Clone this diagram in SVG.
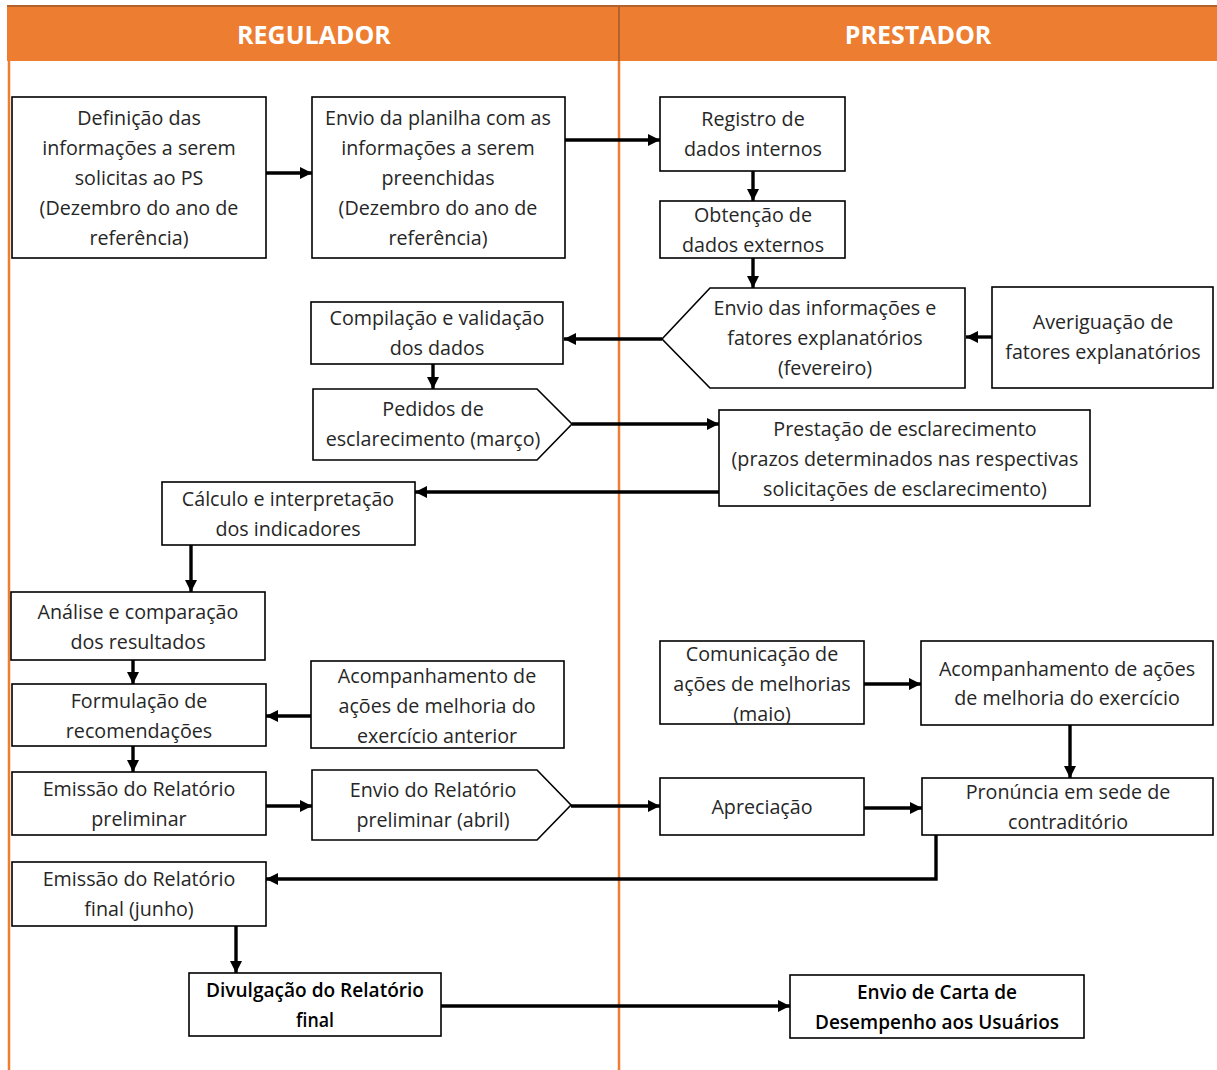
<svg xmlns="http://www.w3.org/2000/svg" width="1217" height="1070" viewBox="0 0 1217 1070">
<defs>
<marker id="ah" markerUnits="userSpaceOnUse" markerWidth="12" markerHeight="12" viewBox="0 0 12 12" refX="12" refY="6" orient="auto">
<path d="M0,0 L12,6 L0,12 Z" fill="#000"/>
</marker>
</defs>
<style>
.bx{fill:#fff;stroke:#000;stroke-width:1.6}
.t{font-family:"Open Sans","Liberation Sans",sans-serif;font-size:19.7px;fill:#262626;text-anchor:middle}
.b{font-family:"Open Sans","Liberation Sans",sans-serif;font-size:19.5px;font-weight:600;fill:#000;text-anchor:middle}
.h{font-family:"Open Sans","Liberation Sans",sans-serif;font-size:25px;font-weight:bold;fill:#fff;text-anchor:middle}
.c{fill:none;stroke:#000;stroke-width:3.4}
</style>
<rect width="1217" height="1070" fill="#fff"/>
<g id="lanes">
<rect x="7" y="5" width="1210" height="56" fill="#ED7D31"/>
<line x1="7" y1="6" x2="1217" y2="6" stroke="#B3622C" stroke-width="2"/>
<line x1="619" y1="6" x2="619" y2="61" stroke="#B3622C" stroke-width="2"/>
<line x1="9" y1="61" x2="9" y2="1070" stroke="#ED7D31" stroke-width="2.5"/>
<line x1="619" y1="61" x2="619" y2="1070" stroke="#ED7D31" stroke-width="2.5"/>
<text class="h" x="314" y="44">REGULADOR</text>
<text class="h" x="918" y="44">PRESTADOR</text>
</g>
<g id="connectors">
<line class="c" x1="266" y1="173" x2="312" y2="173" marker-end="url(#ah)"/>
<line class="c" x1="565" y1="140" x2="660" y2="140" marker-end="url(#ah)"/>
<line class="c" x1="753" y1="171" x2="753" y2="201" marker-end="url(#ah)"/>
<line class="c" x1="753" y1="258" x2="753" y2="288" marker-end="url(#ah)"/>
<line class="c" x1="662" y1="339" x2="564" y2="339" marker-end="url(#ah)"/>
<line class="c" x1="992" y1="337" x2="966" y2="337" marker-end="url(#ah)"/>
<line class="c" x1="433" y1="364" x2="433" y2="389" marker-end="url(#ah)"/>
<line class="c" x1="572" y1="424" x2="719" y2="424" marker-end="url(#ah)"/>
<line class="c" x1="719" y1="492" x2="415" y2="492" marker-end="url(#ah)"/>
<line class="c" x1="191" y1="545" x2="191" y2="592" marker-end="url(#ah)"/>
<line class="c" x1="133" y1="660" x2="133" y2="684" marker-end="url(#ah)"/>
<line class="c" x1="311" y1="716" x2="266" y2="716" marker-end="url(#ah)"/>
<line class="c" x1="133" y1="746" x2="133" y2="772" marker-end="url(#ah)"/>
<line class="c" x1="266" y1="806" x2="312" y2="806" marker-end="url(#ah)"/>
<line class="c" x1="571" y1="806" x2="660" y2="806" marker-end="url(#ah)"/>
<line class="c" x1="864" y1="684" x2="921" y2="684" marker-end="url(#ah)"/>
<line class="c" x1="1070" y1="725" x2="1070" y2="778" marker-end="url(#ah)"/>
<line class="c" x1="864" y1="808" x2="922" y2="808" marker-end="url(#ah)"/>
<polyline class="c" points="936,835 936,879 266,879" marker-end="url(#ah)"/>
<line class="c" x1="236" y1="926" x2="236" y2="973" marker-end="url(#ah)"/>
<line class="c" x1="441" y1="1006" x2="790" y2="1006" marker-end="url(#ah)"/>
</g>
<g id="n1"><rect class="bx" x="12" y="97" width="254" height="161"/>
<text class="t" x="139" y="125">Definição das</text><text class="t" x="139" y="155">informações a serem</text><text class="t" x="139" y="185">solicitas ao PS</text><text class="t" x="139" y="215">(Dezembro do ano de</text><text class="t" x="139" y="245">referência)</text></g>
<g id="n2"><rect class="bx" x="312" y="97" width="253" height="161"/>
<text class="t" x="438" y="125">Envio da planilha com as</text><text class="t" x="438" y="155">informações a serem</text><text class="t" x="438" y="185">preenchidas</text><text class="t" x="438" y="215">(Dezembro do ano de</text><text class="t" x="438" y="245">referência)</text></g>
<g id="n3"><rect class="bx" x="660" y="97" width="185" height="74"/>
<text class="t" x="753" y="126">Registro de</text><text class="t" x="753" y="156">dados internos</text></g>
<g id="n4"><rect class="bx" x="660" y="201" width="185" height="57"/>
<text class="t" x="753" y="222">Obtenção de</text><text class="t" x="753" y="252">dados externos</text></g>
<g id="n5"><polygon class="bx" points="662,339 710,288 965,288 965,388 710,388"/>
<text class="t" x="825" y="315">Envio das informações e</text><text class="t" x="825" y="345">fatores explanatórios</text><text class="t" x="825" y="375">(fevereiro)</text></g>
<g id="n6"><rect class="bx" x="992" y="287" width="221" height="101"/>
<text class="t" x="1103" y="329">Averiguação de</text><text class="t" x="1103" y="359">fatores explanatórios</text></g>
<g id="n7"><rect class="bx" x="311" y="302" width="252" height="62"/>
<text class="t" x="437" y="325">Compilação e validação</text><text class="t" x="437" y="355">dos dados</text></g>
<g id="n8"><polygon class="bx" points="313,389 537,389 572,424 537,460 313,460"/>
<text class="t" x="433" y="416">Pedidos de</text><text class="t" x="433" y="446">esclarecimento (março)</text></g>
<g id="n9"><rect class="bx" x="719" y="410" width="371" height="96"/>
<text class="t" x="905" y="436">Prestação de esclarecimento</text><text class="t" x="905" y="466">(prazos determinados nas respectivas</text><text class="t" x="905" y="496">solicitações de esclarecimento)</text></g>
<g id="n10"><rect class="bx" x="162" y="482" width="253" height="63"/>
<text class="t" x="288" y="506">Cálculo e interpretação</text><text class="t" x="288" y="536">dos indicadores</text></g>
<g id="n11"><rect class="bx" x="11" y="592" width="254" height="68"/>
<text class="t" x="138" y="619">Análise e comparação</text><text class="t" x="138" y="649">dos resultados</text></g>
<g id="n12"><rect class="bx" x="12" y="684" width="254" height="62"/>
<text class="t" x="139" y="708">Formulação de</text><text class="t" x="139" y="738">recomendações</text></g>
<g id="n13"><rect class="bx" x="311" y="661" width="253" height="87"/>
<text class="t" x="437" y="683">Acompanhamento de</text><text class="t" x="437" y="713">ações de melhoria do</text><text class="t" x="437" y="743">exercício anterior</text></g>
<g id="n14"><rect class="bx" x="12" y="772" width="254" height="63"/>
<text class="t" x="139" y="796">Emissão do Relatório</text><text class="t" x="139" y="826">preliminar</text></g>
<g id="n15"><polygon class="bx" points="312,770 537,770 571,805 537,840 312,840"/>
<text class="t" x="433" y="797">Envio do Relatório</text><text class="t" x="433" y="827">preliminar (abril)</text></g>
<g id="n16"><rect class="bx" x="660" y="641" width="204" height="83"/>
<text class="t" x="762" y="661">Comunicação de</text><text class="t" x="762" y="691">ações de melhorias</text><text class="t" x="762" y="721">(maio)</text></g>
<g id="n17"><rect class="bx" x="921" y="641" width="292" height="84"/>
<text class="t" x="1067" y="676">Acompanhamento de ações</text><text class="t" x="1067" y="705">de melhoria do exercício</text></g>
<g id="n18"><rect class="bx" x="660" y="778" width="204" height="57"/>
<text class="t" x="762" y="814">Apreciação</text></g>
<g id="n19"><rect class="bx" x="922" y="778" width="291" height="57"/>
<text class="t" x="1068" y="799">Pronúncia em sede de</text><text class="t" x="1068" y="829">contraditório</text></g>
<g id="n20"><rect class="bx" x="12" y="862" width="254" height="64"/>
<text class="t" x="139" y="886">Emissão do Relatório</text><text class="t" x="139" y="916">final (junho)</text></g>
<g id="n21"><rect class="bx" x="189" y="973" width="252" height="63"/>
<text class="b" x="315" y="997" textLength="218" lengthAdjust="spacingAndGlyphs">Divulgação do Relatório</text><text class="b" x="315" y="1027" textLength="38" lengthAdjust="spacingAndGlyphs">final</text></g>
<g id="n22"><rect class="bx" x="790" y="975" width="294" height="63"/>
<text class="b" x="937" y="999" textLength="160" lengthAdjust="spacingAndGlyphs">Envio de Carta de</text><text class="b" x="937" y="1029" textLength="244" lengthAdjust="spacingAndGlyphs">Desempenho aos Usuários</text></g>
</svg>
